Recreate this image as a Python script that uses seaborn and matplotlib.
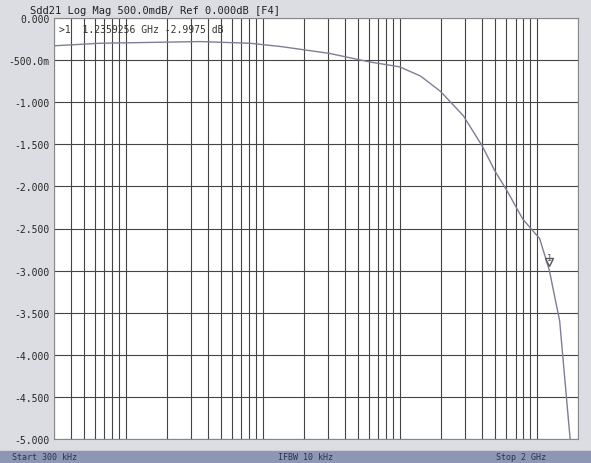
import matplotlib
matplotlib.use("Agg")
import matplotlib.pyplot as plt
import seaborn as sns

freq_hz = [3e5, 6.5e5, 1.5e6, 3.5e6, 8.1e6, 1.37e7, 3.06e7, 5.96e7, 1.0e8, 1.42e8,
           1.98e8, 2.91e8, 4.0e8, 4.96e8, 6.06e8, 7.92e8, 1.05e9, 1.2359e9, 1.47e9,
           1.73e9, 1.88e9, 2.0e9]
mag_db = [-0.33, -0.30, -0.29, -0.28, -0.30, -0.34, -0.42, -0.52, -0.58, -0.69,
          -0.87, -1.16, -1.52, -1.82, -2.05, -2.39, -2.62, -2.9975, -3.6,
          -4.9, -5.5, -5.8]
ytick_vals = [0, -0.5, -1, -1.5, -2, -2.5, -3, -3.5, -4, -4.5, -5]
ytick_labels = ["0.000", "-500.0m", "-1.000", "-1.500", "-2.000", "-2.500",
                "-3.000", "-3.500", "-4.000", "-4.500", "-5.000"]
marker_f, marker_v = 1.2359256e9, -2.9975

sns.set_style("white")
plt.rcParams['font.family'] = ['DejaVu Sans Mono', 'DejaVu Sans']
fig = plt.figure(figsize=(5.91, 4.64), dpi=100, facecolor="#dcdde3")
ax = fig.add_axes([54/591, 1-440/464, 524/591, 421/464])
ax.set_facecolor("white")
sns.lineplot(x=freq_hz, y=mag_db, ax=ax, color="#7c7f96", lw=1.0)
ax.set_xscale("log")
ax.set_xlim(3e5, 2e9)
ax.set_ylim(-5, 0)
ax.set_yticks(ytick_vals)
ax.set_yticklabels(ytick_labels, fontsize=7)
ax.tick_params(axis="y", length=0, pad=3)
ax.set_xticklabels([], minor=True)
ax.set_xticklabels([])
ax.tick_params(axis="x", which="both", length=0)
ax.grid(True, which="both", axis="x", color="#444444", lw=0.8)
ax.grid(True, which="major", axis="y", color="#444444", lw=0.8)
for s in ax.spines.values():
    s.set_color("#888888")
ax.plot([marker_f], [marker_v + 0.1], marker="v", mfc="white", mec="#555", ms=6)
ax.text(marker_f, marker_v + 0.1, "1", fontsize=6, ha="center", va="bottom", color="#555")
ax.text(0.01, 0.985, ">1  1.2359256 GHz -2.9975 dB", transform=ax.transAxes,
        fontsize=7, va="top", color="#333")
fig.text(0.05, 0.977, "Sdd21 Log Mag 500.0mdB/ Ref 0.000dB [F4]", fontsize=7.5, va="center", color="#222")
fig.patches.append(plt.Rectangle((0, 0), 1, 12/464, transform=fig.transFigure,
                                 color="#8d97b3", zorder=0))
fig.text(0.02, 6/464, "Start 300 kHz", fontsize=6, va="center", color="#2a3350")
fig.text(0.47, 6/464, "IFBW 10 kHz", fontsize=6, va="center", color="#2a3350")
fig.text(0.84, 6/464, "Stop 2 GHz", fontsize=6, va="center", color="#2a3350")
fig.savefig("out.png", dpi=100, facecolor=fig.get_facecolor())
